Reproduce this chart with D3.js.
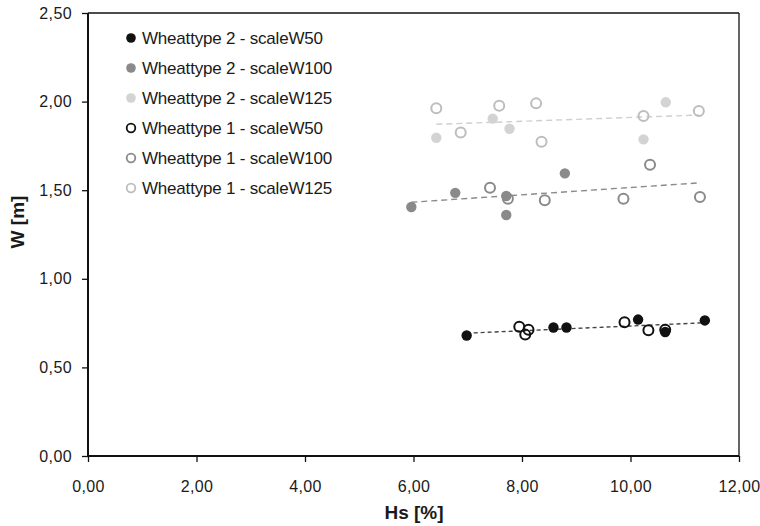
<!DOCTYPE html>
<html><head><meta charset="utf-8">
<script src="https://cdn.jsdelivr.net/npm/d3@7"></script>
<style>body{margin:0;background:#fff}svg{display:block}text{font-family:"Liberation Sans",Arial,sans-serif}</style>
</head><body><svg id="c" width="760" height="526"></svg>
<script>
const xTicks = [0,2,4,6,8,10,12];
const yTicks = [0,0.5,1,1.5,2,2.5];
const seriesNames = ["Wheattype 2 - scaleW50","Wheattype 2 - scaleW100","Wheattype 2 - scaleW125","Wheattype 1 - scaleW50","Wheattype 1 - scaleW100","Wheattype 1 - scaleW125"];
// Wheattype 2 (filled)
const w2s50x = [6.98,8.58,8.82,10.14,10.64,11.37];
const w2s50y = [0.68,0.725,0.725,0.77,0.70,0.765];
const w2s100x = [5.96,6.77,7.71,7.71,8.79];
const w2s100y = [1.405,1.485,1.467,1.36,1.595];
const w2s125x = [6.42,7.46,7.77,10.24,10.65];
const w2s125y = [1.796,1.904,1.847,1.787,1.996];
// Wheattype 1 (open)
const w1s50x = [7.95,8.12,8.06,9.89,10.33,10.64];
const w1s50y = [0.73,0.712,0.685,0.755,0.71,0.713];
const w1s100x = [7.41,7.74,8.42,9.87,10.36,11.28];
const w1s100y = [1.514,1.452,1.443,1.452,1.644,1.462];
const w1s125x = [6.42,6.87,7.58,8.26,8.36,10.24,11.26];
const w1s125y = [1.962,1.825,1.977,1.990,1.774,1.919,1.947];
// trend lines (start/end)
const trendNames = ["scaleW50","scaleW100","scaleW125"];
const trendX = [[6.98,11.37],[5.96,11.25],[6.42,11.26]];
const trendY = [[0.693,0.752],[1.432,1.541],[1.872,1.924]];

const svg = d3.select("#c");
const L=88,R=739,T=13,B=456;
const x = d3.scaleLinear().domain([0,12]).range([L,R]);
const y = d3.scaleLinear().domain([0,2.5]).range([B,T]);
const fmt = d => d3.format(".2f")(d).replace(".",",");

const colFill = ["#111111","#8a8a8a","#d3d3d3"];
const colOpen = ["#111111","#8a8a8a","#bdbdbd"];
const trendCol = ["#444444","#8a8a8a","#cfcfcf"];

// frame
svg.append("line").attr("x1",L).attr("x2",R).attr("y1",T).attr("y2",T).attr("stroke","#111").attr("stroke-width",1.3);
svg.append("line").attr("x1",R).attr("x2",R).attr("y1",T).attr("y2",B).attr("stroke","#111").attr("stroke-width",1.3);

const gx = svg.append("g").attr("transform",`translate(0,${B})`)
  .call(d3.axisBottom(x).tickValues(xTicks).tickFormat(fmt).tickSize(6).tickPadding(24));
const gy = svg.append("g").attr("transform",`translate(${L},0)`)
  .call(d3.axisLeft(y).tickValues(yTicks).tickFormat(fmt).tickSize(6).tickPadding(10));
[gx,gy].forEach(g=>{
  g.select(".domain").attr("stroke","#111").attr("stroke-width",2);
  g.selectAll(".tick line").attr("stroke","#111").attr("stroke-width",1.3);
  g.selectAll("text").attr("font-size",16).attr("letter-spacing","0.4").attr("fill","#1a1a1a");
});
gx.selectAll(".tick text").attr("dy","0.35em");
gx.select(".domain").attr("d",`M${L},0H${R}`);
gy.select(".domain").attr("d",`M0,${B}V${T}`);

svg.append("text").attr("x",414).attr("y",519).attr("text-anchor","middle")
  .attr("font-size",19).attr("font-weight","bold").attr("fill","#1a1a1a").text("Hs [%]");
svg.append("text").attr("transform",`translate(24,222) rotate(-90)`).attr("text-anchor","middle")
  .attr("font-size",19).attr("font-weight","bold").attr("fill","#1a1a1a").text("W [m]");

// trend lines
const dashes = ["4,3","6,4","6,4"];
trendX.forEach((tx,i)=>{
  svg.append("line").attr("x1",x(tx[0])).attr("x2",x(tx[1])).attr("y1",y(trendY[i][0])).attr("y2",y(trendY[i][1]))
    .attr("stroke",trendCol[i]).attr("stroke-width",1.4).attr("stroke-dasharray",dashes[i]);
});

const series = [
  {xs:w2s50x,ys:w2s50y,open:false,k:0},
  {xs:w2s100x,ys:w2s100y,open:false,k:1},
  {xs:w2s125x,ys:w2s125y,open:false,k:2},
  {xs:w1s50x,ys:w1s50y,open:true,k:0},
  {xs:w1s100x,ys:w1s100y,open:true,k:1},
  {xs:w1s125x,ys:w1s125y,open:true,k:2}
];
const drawOrder=[5,4,3,2,1,0];
drawOrder.forEach(si=>{
  const s=series[si];
  svg.append("g").selectAll("circle").data(d3.range(s.xs.length)).join("circle")
    .attr("cx",i=>x(s.xs[i])).attr("cy",i=>y(s.ys[i]))
    .attr("r",s.open?5:5.2)
    .attr("fill",s.open?"#fff":colFill[s.k])
    .attr("fill-opacity",s.open?0:1)
    .attr("stroke",s.open?colOpen[s.k]:"none").attr("stroke-width",2);
});

// legend
const lg = svg.append("g");
seriesNames.forEach((n,i)=>{
  const s=series[i];
  const cy = 38 + i*30;
  lg.append("circle").attr("cx",131).attr("cy",cy).attr("r",s.open?4.3:4.8)
    .attr("fill",s.open?"none":colFill[s.k]).attr("stroke",s.open?colOpen[s.k]:"none").attr("stroke-width",1.8);
  lg.append("text").attr("x",142).attr("y",cy+6).attr("font-size",17).attr("fill","#1a1a1a")
    .attr("letter-spacing","-0.2").text(n);
});
</script></body></html>
